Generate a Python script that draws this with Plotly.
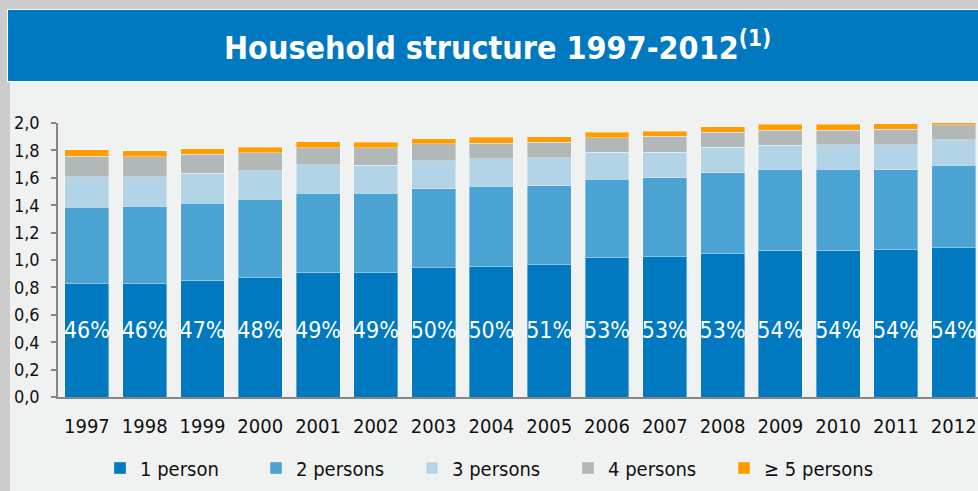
import plotly.graph_objects as go

# Household structure: average household members by household size, 1997-2012
years = ["1997", "1998", "1999", "2000", "2001", "2002", "2003", "2004",
         "2005", "2006", "2007", "2008", "2009", "2010", "2011", "2012"]

one_person = [0.832, 0.830, 0.852, 0.870, 0.910, 0.908, 0.944, 0.951,
              0.966, 1.017, 1.024, 1.046, 1.073, 1.070, 1.075, 1.090]
two_persons = [0.552, 0.561, 0.563, 0.574, 0.578, 0.580, 0.575, 0.586,
               0.575, 0.571, 0.578, 0.590, 0.590, 0.593, 0.583, 0.600]
three_persons = [0.223, 0.216, 0.219, 0.206, 0.206, 0.204, 0.207, 0.201,
                 0.204, 0.199, 0.185, 0.187, 0.175, 0.177, 0.182, 0.189]
four_persons = [0.151, 0.145, 0.138, 0.134, 0.127, 0.126, 0.121, 0.114,
                0.114, 0.107, 0.116, 0.109, 0.109, 0.107, 0.114, 0.109]
five_plus = [0.048, 0.044, 0.041, 0.039, 0.041, 0.041, 0.039, 0.044,
             0.042, 0.038, 0.037, 0.039, 0.044, 0.044, 0.042, 0.017]

series_names = ["1 person", "2 persons", "3 persons", "4 persons", "\u2265 5 persons"]
series_values = [one_person, two_persons, three_persons, four_persons, five_plus]
series_colors = ["#0079c1", "#4ba3d4", "#b3d4e6", "#b2b7b7", "#ff9c00"]

totals = [sum(v) for v in zip(*series_values)]
share_labels = [f"{round(100 * a / t)}%" for a, t in zip(one_person, totals)]

FONT = "DejaVu Sans Condensed, DejaVu Sans, Verdana, sans-serif"

fig = go.Figure()
for name, vals, col in zip(series_names, series_values, series_colors):
    fig.add_trace(go.Bar(
        x=years, y=vals, name=name,
        marker=dict(color=col, line=dict(color="rgba(255,255,255,0.35)", width=1)),
        hoverinfo="x+y+name",
    ))

# share of one-person households, written across the dark blue segment
fig.add_trace(go.Scatter(
    x=years, y=[0.47] * len(years), mode="text", text=share_labels,
    textfont=dict(family=FONT, size=23, color="white"),
    showlegend=False, hoverinfo="skip", cliponaxis=False,
))

# plot area geometry (pixels)
W, H = 978, 491
L, R, T, B = 58, 0, 123, 94
pw, ph = W - L - R, H - T - B


def px(x):
    return (x - L) / pw


def py(y):
    return (H - B - y) / ph


shapes = [
    # light panel behind the chart
    dict(type="rect", xref="paper", yref="paper", layer="below",
         x0=px(10), x1=px(W + 5), y0=py(H + 5), y1=py(81),
         fillcolor="#f0f2f1", line=dict(width=0)),
    # title banner with thin white edge
    dict(type="rect", xref="paper", yref="paper", layer="below",
         x0=px(7), x1=px(W + 5), y0=py(82), y1=py(9),
         fillcolor="#ffffff", line=dict(width=0)),
    dict(type="rect", xref="paper", yref="paper", layer="below",
         x0=px(8), x1=px(W + 5), y0=py(81), y1=py(10),
         fillcolor="#0079c1", line=dict(width=0)),
]

fig.update_layout(
    width=W, height=H,
    margin=dict(l=L, r=R, t=T, b=B, pad=0, autoexpand=False),
    paper_bgcolor="#cccccc",
    plot_bgcolor="rgba(0,0,0,0)",
    barmode="stack",
    bargap=0.24,
    separators=",.",
    font=dict(family=FONT, color="#111111"),
    shapes=shapes,
    annotations=[dict(
        xref="paper", yref="paper", x=px(497), y=py(46),
        xanchor="center", yanchor="middle", showarrow=False,
        text="<b>Household structure 1997-2012<sup>(1)</sup></b>",
        font=dict(family=FONT, size=32, color="white"),
    )],
    xaxis=dict(
        range=[-0.5, 15.42], showline=True, linecolor="#868686", linewidth=1.5,
        ticks="", showgrid=False, zeroline=False,
        tickfont=dict(family=FONT, size=20, color="#111111"),
        ticklabelstandoff=10,
    ),
    yaxis=dict(
        range=[0, 2.0], dtick=0.2, tickformat=".1f",
        showline=True, linecolor="#868686", linewidth=1.5,
        ticks="outside", ticklen=5, tickcolor="#868686", tickwidth=1.5,
        showgrid=False, zeroline=False,
        tickfont=dict(family=FONT, size=18, color="#111111"),
        ticklabelstandoff=8,
    ),
    legend=dict(
        orientation="h", xref="paper", yref="paper",
        x=px(100), y=py(468), xanchor="left", yanchor="middle",
        entrywidth=111, entrywidthmode="pixels", itemwidth=30,
        font=dict(family=FONT, size=20, color="#111111"),
        bgcolor="rgba(0,0,0,0)", traceorder="normal",
    ),
)

fig.write_html("out.html")
